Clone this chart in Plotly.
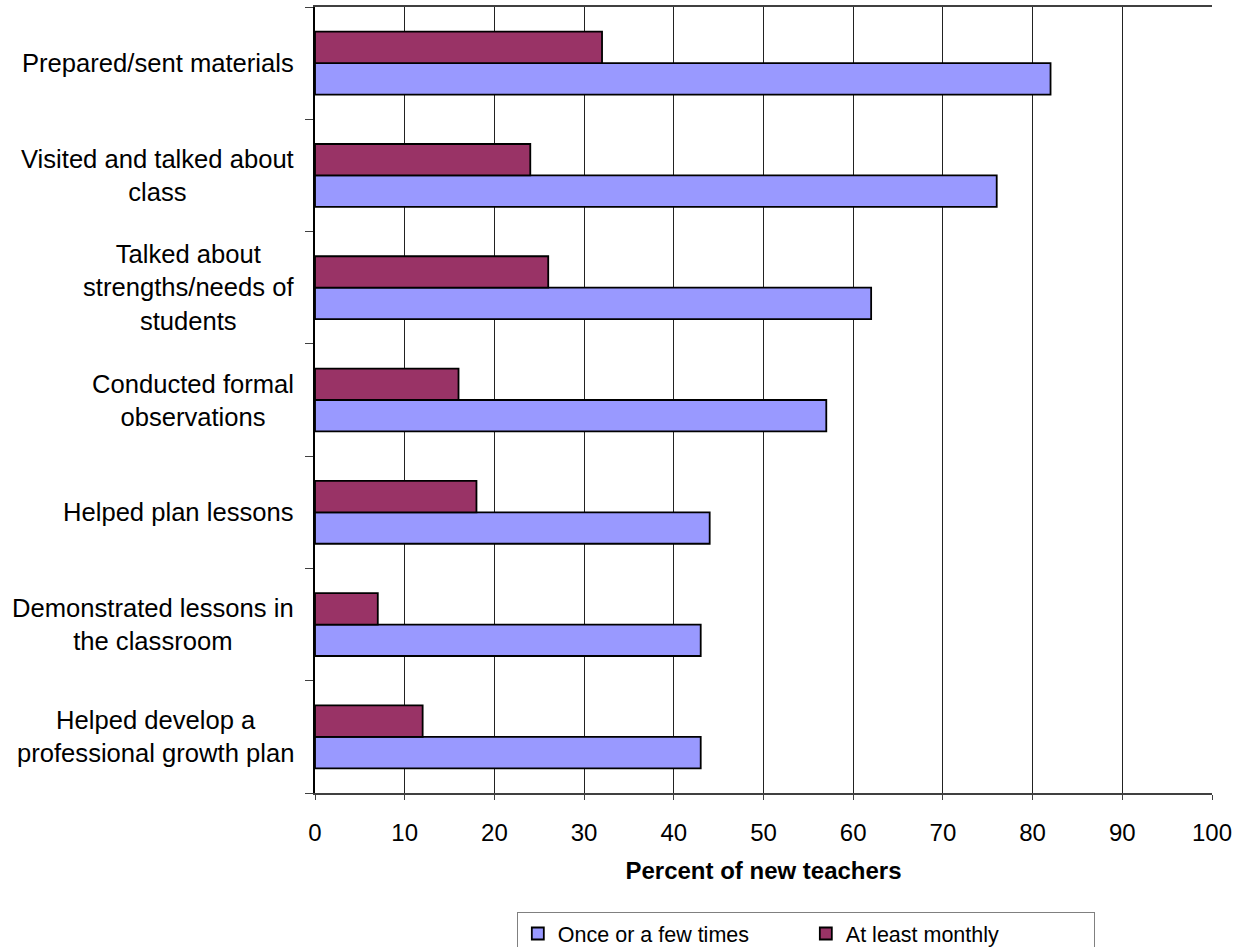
import plotly.graph_objects as go

# Mentor activities, listed top to bottom
categories = [
    "Prepared/sent materials",
    "Visited and talked about<br>class",
    "Talked about<br>strengths/needs of<br>students",
    "Conducted formal<br>observations",
    "Helped plan lessons",
    "Demonstrated lessons in<br>the classroom",
    "Helped develop a<br>professional growth plan",
]
once_or_few = [82, 76, 62, 57, 44, 43, 43]
at_least_monthly = [32, 24, 26, 16, 18, 7, 12]
x_ticks = [0, 10, 20, 30, 40, 50, 60, 70, 80, 90, 100]

FONT = "Liberation Sans, Arial, sans-serif"

fig = go.Figure()
fig.add_trace(go.Bar(
    name="Once or a few times", y=categories, x=once_or_few, orientation="h",
    marker=dict(color="#9999FF", line=dict(color="#000000", width=1.8)),
))
fig.add_trace(go.Bar(
    name="At least monthly", y=categories, x=at_least_monthly, orientation="h",
    marker=dict(color="#993366", line=dict(color="#000000", width=1.8)),
))

# Category labels: centred multi-line text to the left of the axis
for cat in categories:
    fig.add_annotation(
        x=0, xref="paper", y=cat, yref="y", text=cat, showarrow=False,
        xanchor="right", align="center", xshift=-19,
        font=dict(family=FONT, size=25.6, color="#000000"),
    )

fig.update_layout(
    width=1242, height=947,
    margin=dict(l=315, r=30, t=7, b=154, autoexpand=False),
    paper_bgcolor="white", plot_bgcolor="white",
    barmode="group", bargap=0.44, bargroupgap=0,
    font=dict(family=FONT, size=25, color="#000000"),
    showlegend=True,
    legend=dict(
        orientation="h", x=0.225, xanchor="left", y=-0.1514, yanchor="top",
        bordercolor="#808080", borderwidth=1, bgcolor="white",
        font=dict(family=FONT, size=21.5, color="#000000"),
        traceorder="normal", entrywidth=243, entrywidthmode="pixels",
    ),
)
fig.update_xaxes(
    range=[0, 100], tickvals=x_ticks, ticktext=[str(v) for v in x_ticks],
    showgrid=True, gridcolor="#222222", gridwidth=1,
    showline=True, linecolor="#404040", linewidth=1.5, mirror=True,
    ticks="outside", ticklen=5, tickcolor="#404040",
    ticklabelstandoff=12, zeroline=False,
    tickfont=dict(family=FONT, size=24),
    title=dict(text="<b>Percent of new teachers</b>", standoff=18,
               font=dict(family=FONT, size=24)),
)
fig.update_yaxes(
    categoryorder="array", categoryarray=categories[::-1],
    showticklabels=False, showgrid=False, zeroline=False,
    showline=True, linecolor="#000000", linewidth=1.5,
    ticks="outside", ticklen=8, tickcolor="#404040", tickson="boundaries",
)

fig.write_html("out.html")
